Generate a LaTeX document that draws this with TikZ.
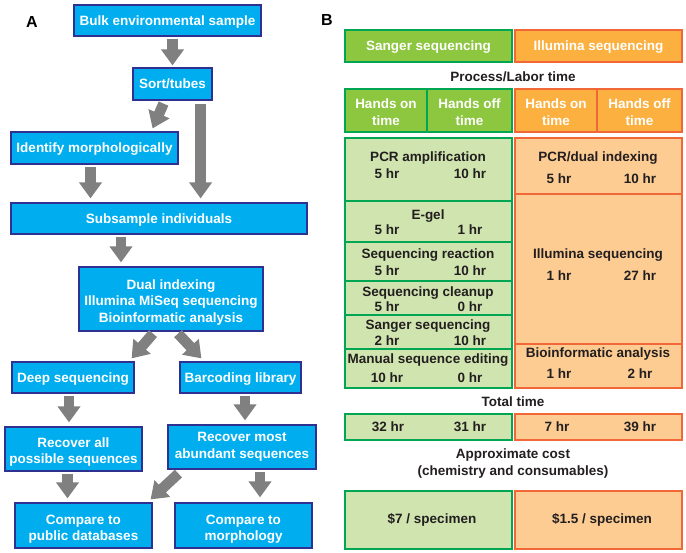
\documentclass[tikz,border=0pt]{standalone}
\usepackage{fontspec}
\setmainfont{Liberation Sans}
\usetikzlibrary{arrows.meta,calc}
\definecolor{boxblue}{RGB}{0,174,239}
\definecolor{boxedge}{RGB}{46,49,146}
\definecolor{arrowgray}{RGB}{128,128,128}
\definecolor{hgreen}{RGB}{141,198,63}
\definecolor{egreen}{RGB}{0,166,81}
\definecolor{lgreen}{RGB}{207,228,174}
\definecolor{horange}{RGB}{251,176,64}
\definecolor{eorange}{RGB}{241,103,56}
\definecolor{lorange}{RGB}{253,204,146}
\definecolor{darktext}{RGB}{35,31,32}
\newcommand{\pushdown}[1]{\rule{0pt}{#1}}
\begin{document}
\begin{tikzpicture}[x=1pt,y=-1pt,
  every node/.style={font=\fontsize{13.5}{16.5}\selectfont\bfseries, inner sep=0pt},
  abox/.style={draw=boxedge, fill=boxblue, line width=1.2pt, text=white, align=center},
  aone/.style={abox, text height=9.7pt, text depth=0pt},
  fat/.style={draw=arrowgray, line width=10.5pt, -{Triangle[width=22pt,length=16pt]}},
  cellg/.style={draw=egreen, fill=lgreen, line width=1.5pt, minimum width=167},
  cello/.style={draw=eorange, fill=lorange, line width=1.5pt, minimum width=167},
  headg/.style={draw=egreen, fill=hgreen, line width=1.5pt, text=white, align=center},
  heado/.style={draw=eorange, fill=horange, line width=1.5pt, text=white, align=center},
  lbl/.style={text=darktext, text height=9.7pt, text depth=0pt},
  panel/.style={font=\fontsize{16}{18}\selectfont\bfseries, text=black}
]
\fill[white] (0,0) rectangle (686,553);
\useasboundingbox (0,0) rectangle (686,553);

% ---------- Panel A ----------
\node[panel] (la) at (32,22) {A};
\node[aone, minimum width=187, minimum height=31] (bulk) at (167.5,20.5) {Bulk environmental sample};
\node[aone, minimum width=79, minimum height=32] (sort) at (172.5,84) {Sort/tubes};
\node[aone, minimum width=167, minimum height=32] (ident) at (94.5,148) {Identify morphologically};
\node[aone, minimum width=296, minimum height=31] (subs) at (159,218.5) {Subsample individuals};
\node[abox, minimum width=184, minimum height=64] (dual) at (171,299) {\pushdown{16pt}Dual indexing\\Illumina MiSeq sequencing\\Bioinformatic analysis};
\node[aone, minimum width=122, minimum height=31] (deep) at (73,377.5) {Deep sequencing};
\node[aone, minimum width=121, minimum height=31] (barc) at (240.5,377.5) {Barcoding library};
\node[abox, minimum width=137, minimum height=44] (recall) at (73.5,449) {\pushdown{16pt}Recover all\\possible sequences};
\node[abox, minimum width=148, minimum height=44] (recmost) at (242,447) {Recover most\\abundant sequences};
\node[abox, minimum width=137, minimum height=45] (cmppub) at (83.5,525.5) {\pushdown{16.5pt}Compare to\\public databases};
\node[abox, minimum width=137, minimum height=45] (cmpmor) at (243.5,525.5) {\pushdown{16.5pt}Compare to\\morphology};

\coordinate (a1) at ($(sort.north)+(0,0)$);
\draw[fat, shorten <=2pt, shorten >=2pt] (a1 |- bulk.south) -- (a1);
\draw[fat] ($(sort.south)+(-9,3)$) -- ($(ident.north east)+(-26,-3)$);
\coordinate (a3) at ($(sort.south east)+(-12,0)$);
\draw[fat, shorten <=3pt, shorten >=4pt] (a3) -- (a3 |- subs.north);
\coordinate (a4) at ($(ident.south)+(-4,0)$);
\draw[fat, shorten <=2pt, shorten >=4pt] (a4) -- (a4 |- subs.north);
\coordinate (a5) at ($(subs.south)+(-38,0)$);
\draw[fat, shorten <=2pt, shorten >=4pt] (a5) -- (a5 |- dual.north);
\draw[fat] ($(dual.south)+(-18,2)$) -- ($(deep.north east)+(-3,-3)$);
\draw[fat] ($(dual.south)+(7,2)$) -- ($(barc.north west)+(22,-3)$);
\coordinate (a8) at ($(deep.south)+(-4,0)$);
\draw[fat, shorten <=2pt, shorten >=4pt] (a8) -- (a8 |- recall.north);
\coordinate (a9) at ($(barc.south)+(4.5,0)$);
\draw[fat, shorten <=2pt, shorten >=4pt] (a9) -- (a9 |- recmost.north);
\coordinate (a10) at ($(recall.south)+(-6,0)$);
\draw[fat, shorten <=2pt, shorten >=4pt] (a10) -- (a10 |- cmppub.north);
\draw[fat] ($(recmost.south west)+(11,4)$) -- ($(cmppub.north east)+(-2,-3)$);
\coordinate (a12) at ($(recmost.south)+(18,0)$);
\draw[fat, shorten <=2pt, shorten >=5pt] (a12) -- (a12 |- cmpmor.north);

% ---------- Panel B ----------
\node[panel] (lb) at (327,20) {B};
\node[headg, text height=9.7pt, text depth=0pt, minimum width=167, minimum height=32] (sanger) at (428.5,46) {Sanger sequencing};
\node[heado, text height=9.7pt, text depth=0pt, minimum width=167, minimum height=32] (illum) at (598.5,46) {Illumina sequencing};
\node[lbl] (plt) at (513,77) {Process/Labor time};
\node[headg, minimum width=82, minimum height=43] (gon) at (386,110.5) {\pushdown{12.7pt}Hands on\\time};
\node[headg, minimum width=85, minimum height=43] (goff) at (469.5,110.5) {\pushdown{12.7pt}Hands off\\time};
\node[heado, minimum width=82, minimum height=43] (oon) at (556,110.5) {\pushdown{12.7pt}Hands on\\time};
\node[heado, minimum width=85, minimum height=43] (ooff) at (639.5,110.5) {\pushdown{12.7pt}Hands off\\time};

\node[cellg, minimum height=63] (pcr) at (428.5,169.5) {};
\node[cellg, minimum height=41] (egel) at (428.5,221.5) {};
\node[cellg, minimum height=39] (seqr) at (428.5,261.5) {};
\node[cellg, minimum height=34] (seqc) at (428.5,298) {};
\node[cellg, minimum height=34] (sang) at (428.5,332) {};
\node[cellg, minimum height=39] (man) at (428.5,368.5) {};
\node[cello, minimum height=56] (pcrd) at (598.5,166) {};
\node[cello, minimum height=150] (ills) at (598.5,269) {};
\node[cello, minimum height=44] (bio) at (598.5,366) {};

\node[lbl] (t1) at (428,157) {PCR amplification};
\node[lbl] (t1a) at (387,174) {5 hr};
\node[lbl] (t1b) at (470,174) {10 hr};
\node[lbl] (t2) at (428,215) {E-gel};
\node[lbl] (t2a) at (387,230) {5 hr};
\node[lbl] (t2b) at (470,230) {1 hr};
\node[lbl] (t3) at (428,254) {Sequencing reaction};
\node[lbl] (t3a) at (387,271) {5 hr};
\node[lbl] (t3b) at (470,271) {10 hr};
\node[lbl] (t4) at (428,292) {Sequencing cleanup};
\node[lbl] (t4a) at (387,307) {5 hr};
\node[lbl] (t4b) at (470,307) {0 hr};
\node[lbl] (t5) at (428,325) {Sanger sequencing};
\node[lbl] (t5a) at (387,341) {2 hr};
\node[lbl] (t5b) at (470,341) {10 hr};
\node[lbl] (t6) at (428,359) {Manual sequence editing};
\node[lbl] (t6a) at (387,378) {10 hr};
\node[lbl] (t6b) at (470,378) {0 hr};

\node[lbl] (u1) at (598,157) {PCR/dual indexing};
\node[lbl] (u1a) at (559,179) {5 hr};
\node[lbl] (u1b) at (640,179) {10 hr};
\node[lbl] (u2) at (598,254) {Illumina sequencing};
\node[lbl] (u2a) at (559,276) {1 hr};
\node[lbl] (u2b) at (640,276) {27 hr};
\node[lbl] (u3) at (598,353) {Bioinformatic analysis};
\node[lbl] (u3a) at (559,374) {1 hr};
\node[lbl] (u3b) at (640,374) {2 hr};

\node[lbl] (tt) at (513,402) {Total time};
\node[cellg, minimum height=26] (totg) at (428.5,427) {};
\node[cello, minimum height=26] (toto) at (598.5,427) {};
\node[lbl] (v1) at (388,427) {32 hr};
\node[lbl] (v2) at (470,427) {31 hr};
\node[lbl] (v3) at (557,427) {7 hr};
\node[lbl] (v4) at (640,427) {39 hr};

\node[lbl] (ac) at (513,454) {Approximate cost};
\node[lbl] (cc) at (513,471) {(chemistry and consumables)};
\node[cellg, minimum height=58] (costg) at (428.5,520) {};
\node[cello, minimum height=58] (costo) at (598.5,520) {};
\node[lbl] (c1) at (432,519) {\$7 / specimen};
\node[lbl] (c2) at (602,519) {\$1.5 / specimen};
\end{tikzpicture}
\end{document}
